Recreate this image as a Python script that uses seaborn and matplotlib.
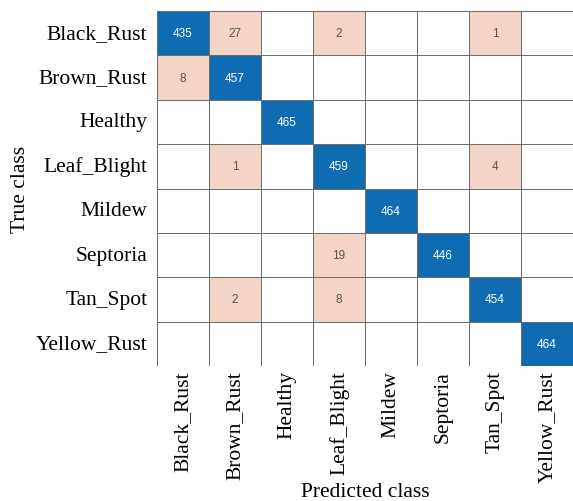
import numpy as np
import pandas as pd
import matplotlib.pyplot as plt
from matplotlib.colors import ListedColormap
import seaborn as sns

# ==================================================
# Data
# ==================================================
classes = ["Black_Rust", "Brown_Rust", "Healthy", "Leaf_Blight",
           "Mildew", "Septoria", "Tan_Spot", "Yellow_Rust"]

black_rust  = [435, 27, 0, 2, 0, 0, 1, 0]
brown_rust  = [8, 457, 0, 0, 0, 0, 0, 0]
healthy     = [0, 0, 465, 0, 0, 0, 0, 0]
leaf_blight = [0, 1, 0, 459, 0, 0, 4, 0]
mildew      = [0, 0, 0, 0, 464, 0, 0, 0]
septoria    = [0, 0, 0, 19, 0, 446, 0, 0]
tan_spot    = [0, 2, 0, 8, 0, 0, 454, 0]
yellow_rust = [0, 0, 0, 0, 0, 0, 0, 464]

cm = pd.DataFrame(
    [black_rust, brown_rust, healthy, leaf_blight,
     mildew, septoria, tan_spot, yellow_rust],
    index=classes, columns=classes
)

# ==================================================
# Cell categories: 0 empty, 1 off-diagonal error, 2 correct
# ==================================================
vals = cm.values
kind = np.where(vals == 0, 0, 1)
np.fill_diagonal(kind, 2)
labels = np.where(vals == 0, "", vals.astype(str))

cmap = ListedColormap(["#ffffff", "#f4d4c6", "#0f6cb3"])

# ==================================================
# Plot
# ==================================================
sns.set_theme(style="white")
plt.rcParams["font.family"] = ["Liberation Serif", "DejaVu Serif"]
plt.rcParams["text.color"] = "black"
plt.rcParams["xtick.color"] = "black"
plt.rcParams["ytick.color"] = "black"
plt.rcParams["axes.labelcolor"] = "black"

fig = plt.figure(figsize=(5.73, 5.02), dpi=100)
ax = fig.add_axes([0.274, 0.269, 0.726, 0.707])

sns.heatmap(
    pd.DataFrame(kind, index=classes, columns=classes),
    cmap=cmap, vmin=0, vmax=2, cbar=False,
    linewidths=0.6, linecolor="#6e6e6e",
    annot=labels, fmt="",
    annot_kws={"fontsize": 8.5, "family": "Liberation Sans"},
    ax=ax
)

# text colour per cell type (one text per cell)
for t, k in zip(ax.texts, kind.flatten()):
    t.set_color("white" if k == 2 else "#555555")

ax.set_xticklabels(classes, rotation=90, fontsize=15.5)
ax.set_yticklabels(classes, rotation=0, fontsize=15.5)
ax.tick_params(axis="y", length=0, pad=7)
ax.tick_params(axis="x", length=0, pad=3)
ax.set_xlabel("Predicted class", fontsize=15.5, labelpad=0)
ax.set_ylabel("True class", fontsize=15.5, labelpad=4)

plt.savefig("out.png", dpi=100)
